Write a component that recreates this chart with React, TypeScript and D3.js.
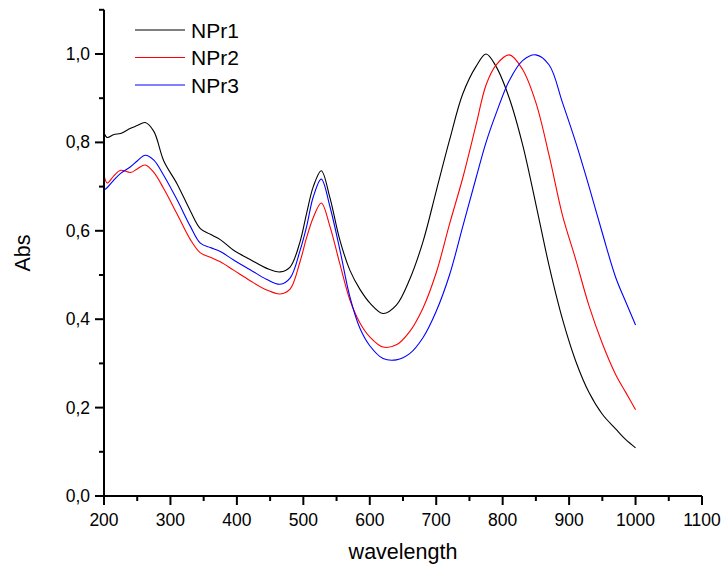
import React from "react";
import * as d3 from "d3";

// wavelength grid (nm) shared by all three spectra
const wavelengths = [
  200, 205, 215, 225, 240, 250, 262, 275, 290, 310, 330, 345, 360, 375, 395,
  420, 445, 465, 480, 495, 505, 515, 527, 540, 555, 570, 585, 600, 620, 640,
  660, 680, 700, 720, 740, 760, 775, 790, 810, 830, 850, 870, 890, 910, 930,
  950, 970, 985, 1000,
];

const npr1 = [
  0.822, 0.811, 0.818, 0.82, 0.832, 0.838, 0.845, 0.825, 0.758, 0.706, 0.645,
  0.605, 0.592, 0.58, 0.556, 0.535, 0.515, 0.507, 0.518, 0.575, 0.64, 0.7,
  0.736, 0.675, 0.579, 0.511, 0.468, 0.437, 0.413, 0.432, 0.49, 0.575, 0.69,
  0.805, 0.91, 0.972, 1.0, 0.972, 0.9, 0.795, 0.66, 0.52, 0.4, 0.305, 0.234,
  0.185, 0.152, 0.128, 0.109,
];

const npr2 = [
  0.726, 0.708, 0.725, 0.737, 0.732, 0.74, 0.749, 0.732, 0.695, 0.638, 0.58,
  0.55, 0.54, 0.53, 0.511, 0.487, 0.466, 0.457, 0.468, 0.53, 0.585, 0.63,
  0.663, 0.61, 0.525, 0.444, 0.392, 0.36, 0.337, 0.342, 0.372, 0.425, 0.505,
  0.615, 0.72, 0.84, 0.93, 0.975, 0.998, 0.965, 0.89, 0.77, 0.635, 0.535, 0.43,
  0.345, 0.275, 0.235, 0.195,
];

const npr3 = [
  0.692, 0.698, 0.715, 0.73, 0.745, 0.758, 0.771, 0.76, 0.725, 0.67, 0.61,
  0.572, 0.562, 0.553, 0.534, 0.512, 0.49, 0.479, 0.493, 0.555, 0.61, 0.677,
  0.717, 0.655, 0.557, 0.451, 0.38, 0.34, 0.311, 0.308, 0.322, 0.358, 0.418,
  0.5, 0.61, 0.72, 0.8, 0.865, 0.94, 0.985, 0.998, 0.975, 0.89, 0.8, 0.7,
  0.595, 0.495, 0.44, 0.387,
];

const seriesNames = ["NPr1", "NPr2", "NPr3"];
const seriesColors = ["#000000", "#ff0000", "#0000ff"];
const seriesValues = [npr1, npr2, npr3];

const xTicks = [200, 300, 400, 500, 600, 700, 800, 900, 1000, 1100];
const yTicks = [0, 0.2, 0.4, 0.6, 0.8, 1.0];

const App = () => {
  const width = 724;
  const height = 567;
  const font = "'Liberation Sans', Arial, sans-serif";

  const x = d3.scaleLinear().domain([200, 1100]).range([104, 702]);
  const y = d3.scaleLinear().domain([0, 1.1]).range([496, 9.8]);

  const line = d3
    .line<number>()
    .x((d, i) => x(wavelengths[i]))
    .y((d) => y(d))
    .curve(d3.curveCatmullRom.alpha(0.5));

  const xMinor = d3.range(250, 1100, 100);
  const yMinor = d3.range(0.1, 1.15, 0.2);

  return (
    <svg
      width={width}
      height={height}
      style={{ position: "absolute", left: 0, top: 0, background: "#fff" }}
      fontFamily={font}
    >
      {/* curves */}
      {seriesValues.map((vals, k) => (
        <path
          key={seriesNames[k]}
          d={line(vals) || ""}
          fill="none"
          stroke={seriesColors[k]}
          strokeWidth={1.1}
        />
      ))}

      {/* x axis */}
      <line x1={x(200)} x2={x(1100)} y1={y(0)} y2={y(0)} stroke="#000" strokeWidth={2} />
      {xTicks.map((t) => (
        <g key={t}>
          <line x1={x(t)} x2={x(t)} y1={y(0)} y2={y(0) + 9} stroke="#000" strokeWidth={2} />
          <text x={x(t)} y={526} textAnchor="middle" fontSize={17.5}>
            {t}
          </text>
        </g>
      ))}
      {xMinor.map((t) => (
        <line key={t} x1={x(t)} x2={x(t)} y1={y(0)} y2={y(0) + 5} stroke="#000" strokeWidth={2} />
      ))}

      {/* y axis */}
      <line x1={x(200)} x2={x(200)} y1={y(0) + 1} y2={y(1.1)} stroke="#000" strokeWidth={2} />
      {yTicks.map((t) => (
        <g key={t}>
          <line x1={x(200) - 9} x2={x(200)} y1={y(t)} y2={y(t)} stroke="#000" strokeWidth={2} />
          <text
            x={90}
            y={y(t)}
            textAnchor="end"
            dominantBaseline="central"
            fontSize={17.5}
          >
            {t.toFixed(1).replace(".", ",")}
          </text>
        </g>
      ))}
      {yMinor.map((t) => (
        <line key={t} x1={x(200) - 5} x2={x(200)} y1={y(t)} y2={y(t)} stroke="#000" strokeWidth={2} />
      ))}

      {/* axis titles */}
      <text x={403} y={559} textAnchor="middle" fontSize={21.5}>
        wavelength
      </text>
      <text
        transform={`translate(30,253) rotate(-90)`}
        textAnchor="middle"
        fontSize={21.5}
      >
        Abs
      </text>

      {/* legend */}
      {seriesNames.map((name, k) => (
        <g key={name} transform={`translate(0,${30 + k * 27.5})`}>
          <line x1={135} x2={185} y1={0} y2={0} stroke={seriesColors[k]} strokeWidth={1.1} />
          <text x={191} y={7.5} fontSize={21}>
            {name}
          </text>
        </g>
      ))}
    </svg>
  );
};

export default App;
